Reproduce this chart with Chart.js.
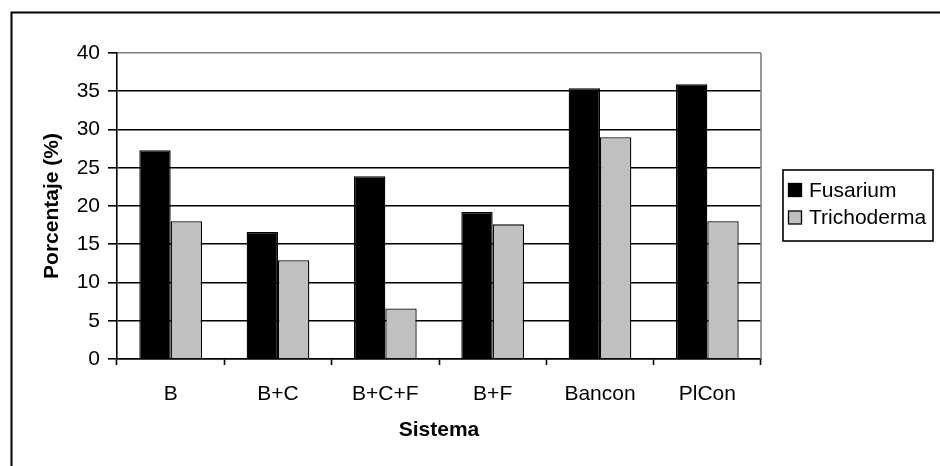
<!DOCTYPE html>
<html>
<head>
<meta charset="utf-8">
<script src="https://cdn.jsdelivr.net/npm/chart.js@4/dist/chart.umd.min.js"></script>
<style>
  html, body { margin: 0; padding: 0; background: #fff; }
  #wrap { width: 940px; height: 466px; }
  canvas { display: block; }
</style>
</head>
<body>
<div id="wrap"><canvas id="c" width="940" height="466"></canvas></div>
<script>
// Sistemas evaluados y porcentaje de aislamientos por hongo
const sistemas = ['B', 'B+C', 'B+C+F', 'B+F', 'Bancon', 'PlCon'];
const fusarium = [27.3, 16.6, 23.9, 19.2, 35.4, 35.9];
const trichoderma = [18.0, 12.9, 6.6, 17.6, 29.0, 18.0];
const yTicks = [0, 5, 10, 15, 20, 25, 30, 35, 40];

const FONT = '"Liberation Sans", Arial, sans-serif';
const FSIZE = 21;
const BLACK = '#000000';
const GREY = '#C0C0C0';
const FRAME = '#808080';
const LW = 1.6;

// Outer frame, right plot edge and the boxed legend
const decor = {
  id: 'decor',
  beforeDraw(chart) {
    const ctx = chart.ctx;
    ctx.save();
    ctx.fillStyle = '#fff';
    ctx.fillRect(0, 0, chart.width, chart.height);
    ctx.strokeStyle = BLACK;
    ctx.lineWidth = 2;
    ctx.strokeRect(11.5, 12.5, chart.width + 20, chart.height + 20);
    ctx.restore();
  },
  afterDatasetsDraw(chart) {
    const ctx = chart.ctx;
    const a = chart.chartArea;
    ctx.save();
    ctx.strokeStyle = FRAME;
    ctx.lineWidth = LW;
    ctx.beginPath();
    ctx.moveTo(a.right, a.top);
    ctx.lineTo(a.right, a.bottom);
    ctx.stroke();

    // legend
    const bx = 783, by = 170, bw = 150, bh = 71;
    ctx.strokeStyle = BLACK;
    ctx.lineWidth = 1.6;
    ctx.strokeRect(bx, by, bw, bh);
    const rows = [190, 217.5];
    chart.data.datasets.forEach((ds, i) => {
      const cy = rows[i];
      ctx.fillStyle = ds.backgroundColor;
      ctx.fillRect(788.5, cy - 6.5, 13, 13);
      ctx.strokeStyle = BLACK;
      ctx.lineWidth = 1.3;
      ctx.strokeRect(788.5, cy - 6.5, 13, 13);
      ctx.fillStyle = BLACK;
      ctx.font = FSIZE + 'px ' + FONT;
      ctx.textAlign = 'left';
      ctx.textBaseline = 'middle';
      ctx.fillText(ds.label, 809, cy + 1);
    });
    ctx.restore();
  }
};

new Chart(document.getElementById('c'), {
  type: 'bar',
  data: {
    labels: sistemas,
    datasets: [
      { label: 'Fusarium', data: fusarium, backgroundColor: BLACK, borderColor: BLACK, borderWidth: 1.3 },
      { label: 'Trichoderma', data: trichoderma, backgroundColor: GREY, borderColor: BLACK, borderWidth: 1.3 }
    ]
  },
  options: {
    responsive: false,
    animation: false,
    devicePixelRatio: 1,
    layout: { padding: { left: 39.4, top: 53, right: 179, bottom: 0 } },
    datasets: { bar: { categoryPercentage: 0.584, barPercentage: 1.0 } },
    plugins: {
      legend: { display: false },
      tooltip: { enabled: false }
    },
    scales: {
      x: {
        afterFit(scale) { scale.height = 107; },
        grid: {
          offset: true,
          drawOnChartArea: false,
          drawTicks: true,
          tickLength: 6,
          tickColor: BLACK,
          tickWidth: LW,
          color: BLACK
        },
        border: { display: true, color: BLACK, width: LW },
        ticks: { color: BLACK, padding: 16.4, font: { family: FONT, size: FSIZE } },
        title: {
          display: true,
          text: 'Sistema',
          color: BLACK,
          font: { family: FONT, size: FSIZE, weight: 'bold' },
          padding: { top: 0, bottom: 23.4 }
        }
      },
      y: {
        min: 0,
        max: 40,
        afterFit(scale) { scale.width = 77.6; },
        afterBuildTicks(scale) { scale.ticks = yTicks.map(v => ({ value: v })); },
        grid: {
          color: (c) => (c.tick && c.tick.value === 40 ? FRAME : BLACK),
          lineWidth: LW,
          drawTicks: true,
          tickLength: 9,
          tickColor: BLACK,
          tickWidth: LW
        },
        border: { display: true, color: BLACK, width: LW },
        ticks: { color: BLACK, padding: 8, font: { family: FONT, size: FSIZE } },
        title: {
          display: true,
          text: 'Porcentaje (%)',
          color: BLACK,
          font: { family: FONT, size: FSIZE, weight: 'bold' },
          padding: { top: 0, bottom: 0 }
        }
      }
    }
  },
  plugins: [decor]
});
</script>
</body>
</html>
